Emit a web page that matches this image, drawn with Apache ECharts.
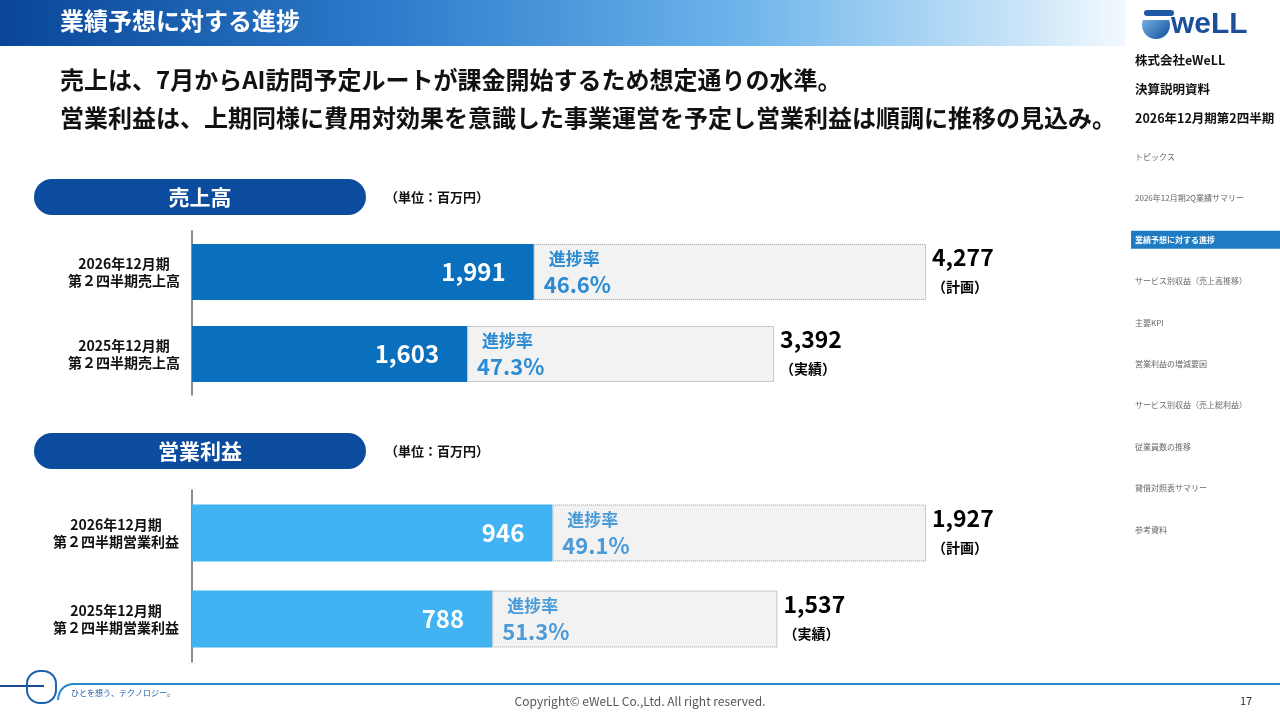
<!DOCTYPE html>
<html><head><meta charset="utf-8">
<script src="https://cdn.jsdelivr.net/npm/echarts@6/dist/echarts.min.js"></script>
<style>html,body{margin:0;padding:0;background:#fff}#c{width:1280px;height:720px}</style>
</head><body><div id="c"></div>
<script>
// ---- data ----
const revCategories = ['2026年12月期\n第２四半期売上高', '2025年12月期\n第２四半期売上高'];
const revActual = [1991, 1603];
const revTotal = [4277, 3392];
const revRate = ['46.6%', '47.3%'];
const opCategories = ['2026年12月期\n第２四半期営業利益', '2025年12月期\n第２四半期営業利益'];
const opActual = [946, 788];
const opTotal = [1927, 1537];
const opRate = ['49.1%', '51.3%'];
const totalTags = ['（計画）', '（実績）'];
const menuItems = ['トピックス', '2026年12月期2Q業績サマリー', '業績予想に対する進捗', 'サービス別収益（売上高推移）', '主要KPI', '営業利益の増減要因', 'サービス別収益（売上総利益）', '従業員数の推移', '貸借対照表サマリー', '参考資料'];
const activeMenu = 2;

const FONT = '"Noto Sans CJK JP", "Noto Sans", sans-serif';
const chart = echarts.init(document.getElementById('c'));
const fmt = v => v.toLocaleString('en-US');

function sectionSeries(idx, actual, total, rate, color, rateColor) {
  return [
    {
      type: 'bar', xAxisIndex: idx, yAxisIndex: idx, stack: 's' + idx,
      data: actual, barWidth: idx === 0 ? 56 : 57,
      itemStyle: { color: color },
      label: { show: true, position: 'insideRight', distance: 28, color: '#fff',
        fontFamily: FONT, fontWeight: 'bold', fontSize: 24, formatter: p => fmt(p.value) },
      emphasis: { disabled: true },
      z: 3
    },
    {
      type: 'bar', xAxisIndex: idx, yAxisIndex: idx, stack: 's' + idx,
      data: total.map((t, i) => t - actual[i]),
      itemStyle: { color: '#f2f2f2', borderColor: '#9a9a9a', borderWidth: 1, borderType: 'dotted' },
      label: { show: true, position: 'insideLeft', distance: 10,
        formatter: p => '{a|進捗率}\n{b|' + rate[p.dataIndex] + '}',
        rich: {
          a: { color: rateColor, fontFamily: FONT, fontWeight: 'bold', fontSize: 17, lineHeight: 25, padding: [0, 0, 0, 5] },
          b: { color: rateColor, fontFamily: FONT, fontWeight: 'bold', fontSize: 22, lineHeight: 27 }
        } },
      emphasis: { disabled: true },
      z: 2
    },
    {
      type: 'scatter', xAxisIndex: idx, yAxisIndex: idx, symbolSize: 0,
      data: total.map((t, i) => [t, i]),
      itemStyle: { color: '#000', opacity: 1 },
      label: { show: true, position: 'right', distance: 6, align: 'left', color: '#000', opacity: 1,
        formatter: p => '{v|' + fmt(p.value[0]) + '}\n{s|' + totalTags[p.dataIndex] + '}',
        rich: {
          v: { color: '#000', fontFamily: FONT, fontWeight: 'bold', fontSize: 23, lineHeight: 30 },
          s: { color: '#000', fontFamily: FONT, fontWeight: 'bold', fontSize: 14, lineHeight: 30 }
        } },
      emphasis: { disabled: true },
      z: 4
    }
  ];
}

function yAxisFor(idx, data, margin) {
  return {
    gridIndex: idx, data: data,
    type: 'category', inverse: true,
    axisLine: { show: true, lineStyle: { color: '#666', width: 1.5 } },
    axisTick: { show: false },
    axisLabel: { color: '#111', fontFamily: FONT, fontWeight: 'bold', fontSize: 14, lineHeight: 17, align: 'center', margin: margin }
  };
}

const graphics = [];
// header gradient
graphics.push({ type: 'rect', shape: { x: 0, y: 0, width: 1125, height: 46 },
  style: { fill: new echarts.graphic.LinearGradient(0, 0, 1, 0, [
    { offset: 0, color: '#0a4698' }, { offset: 0.35, color: '#2e7ccc' },
    { offset: 0.65, color: '#6bb3ea' }, { offset: 0.9, color: '#c6e3f8' }, { offset: 1, color: '#f3f9fe' }]) }, z: 0 });
graphics.push({ type: 'text', x: 60, y: 21, style: { text: '業績予想に対する進捗', fill: '#fff', font: 'bold 24px ' + FONT, textVerticalAlign: 'middle' } });
// subtitle
graphics.push({ type: 'text', x: 60, y: 80, style: { text: '売上は、7月からAI訪問予定ルートが課金開始するため想定通りの水準。', fill: '#111', font: 'bold 24px ' + FONT, textVerticalAlign: 'middle' } });
graphics.push({ type: 'text', x: 60, y: 118, style: { text: '営業利益は、上期同様に費用対効果を意識した事業運営を予定し営業利益は順調に推移の見込み。', fill: '#111', font: 'bold 24px ' + FONT, textVerticalAlign: 'middle' } });
// section pills
[['売上高', 179], ['営業利益', 433]].forEach(([t, y]) => {
  graphics.push({ type: 'rect', shape: { x: 34, y: y, width: 332, height: 36, r: 18 }, style: { fill: '#0c4c9e' } });
  graphics.push({ type: 'text', x: 200, y: y + 18, style: { text: t, fill: '#fff', font: 'bold 21px ' + FONT, textAlign: 'center', textVerticalAlign: 'middle' } });
  graphics.push({ type: 'text', x: 385, y: y + 18, style: { text: '（単位：百万円）', fill: '#111', font: 'bold 13px ' + FONT, textVerticalAlign: 'middle' } });
});
// logo
graphics.push({ type: 'circle', shape: { cx: 1156, cy: 25, r: 14 },
  style: { fill: new echarts.graphic.LinearGradient(0, 0, 1, 1, [{ offset: 0, color: '#8cc0ec' }, { offset: 1, color: '#0d4f9f' }]) } });
graphics.push({ type: 'rect', shape: { x: 1138, y: 8, width: 40, height: 12, r: 5 }, style: { fill: '#fff' } });
graphics.push({ type: 'rect', shape: { x: 1144, y: 10, width: 30, height: 6, r: 3 }, style: { fill: '#1c5aa8' } });
graphics.push({ type: 'text', x: 1171, y: 25, style: { text: 'weLL', fill: '#1b4f9c', font: 'bold 30px "Liberation Sans", sans-serif', textVerticalAlign: 'middle' } });
// sidebar
[['株式会社eWeLL', 60], ['決算説明資料', 89], ['2026年12月期第2四半期', 118]].forEach(([t, y]) => {
  graphics.push({ type: 'text', x: 1135, y: y, style: { text: t, fill: '#111', font: 'bold 12.5px ' + FONT, textVerticalAlign: 'middle' } });
});
menuItems.forEach((t, i) => {
  const y = 157 + i * 41.4;
  if (i === activeMenu) {
    graphics.push({ type: 'rect', shape: { x: 1131, y: y - 9, width: 149, height: 18 }, style: { fill: '#1f7cc2' } });
  }
  graphics.push({ type: 'text', x: 1135, y: y, style: { text: t, fill: i === activeMenu ? '#fff' : '#666', font: (i === activeMenu ? 'bold ' : '') + '8px ' + FONT, textVerticalAlign: 'middle' } });
});
// footer
graphics.push({ type: 'line', shape: { x1: 0, y1: 686, x2: 44, y2: 686 }, style: { stroke: '#1a4d96', lineWidth: 2 } });
graphics.push({ type: 'rect', shape: { x: 27, y: 671, width: 29, height: 32, r: 13 }, style: { fill: 'none', stroke: '#1a63ad', lineWidth: 2 } });
graphics.push({ type: 'bezierCurve', shape: { x1: 58, y1: 700, cpx1: 59, cpy1: 686, x2: 72, y2: 684 }, style: { fill: 'none', stroke: '#2a8ad0', lineWidth: 2 } });
graphics.push({ type: 'line', shape: { x1: 72, y1: 684, x2: 1280, y2: 684 }, style: { stroke: '#2a8ad0', lineWidth: 2 } });
graphics.push({ type: 'text', x: 71, y: 693, style: { text: 'ひとを想う、テクノロジー。', fill: '#1f5fa5', font: '8px ' + FONT, textVerticalAlign: 'middle' } });
graphics.push({ type: 'text', x: 640, y: 701, style: { text: 'Copyright© eWeLL Co.,Ltd. All right reserved.', fill: '#555', font: '12px ' + FONT, textAlign: 'center', textVerticalAlign: 'middle' } });
graphics.push({ type: 'text', x: 1246, y: 701, style: { text: '17', fill: '#333', font: '11px ' + FONT, textAlign: 'center', textVerticalAlign: 'middle' } });

chart.setOption({
  animation: false,
  grid: [
    { left: 192, width: 734, top: 231, height: 164 },
    { left: 192, width: 734, top: 490, height: 172 }
  ],
  xAxis: [
    { gridIndex: 0, type: 'value', min: 0, max: revTotal[0], show: false },
    { gridIndex: 1, type: 'value', min: 0, max: opTotal[0], show: false }
  ],
  yAxis: [
    yAxisFor(0, revCategories, 68),
    yAxisFor(1, opCategories, 76)
  ],
  series: [
    ...sectionSeries(0, revActual, revTotal, revRate, '#0a70bd', '#2b8bd3'),
    ...sectionSeries(1, opActual, opTotal, opRate, '#41b3f3', '#4a9bd8')
  ],
  graphic: graphics
});
</script></body></html>
